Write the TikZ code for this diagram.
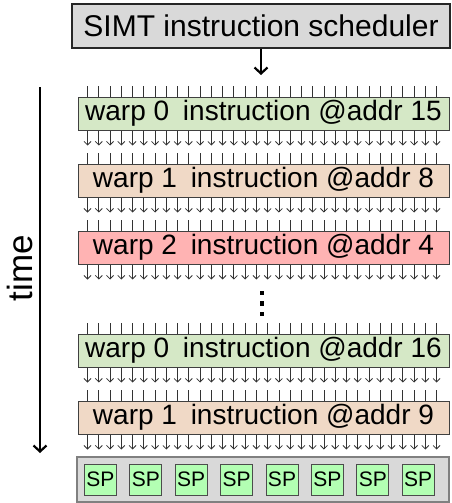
\documentclass[tikz,border=0pt]{standalone}
\usepackage{fontspec}
\setmainfont{Liberation Sans}
\usetikzlibrary{arrows.meta,calc}
\definecolor{wgreen}{HTML}{D5E8C6}
\definecolor{wtan}{HTML}{F0D9C6}
\definecolor{wred}{HTML}{FFB3B3}
\definecolor{spgreen}{HTML}{B3FFB3}
\definecolor{boxgray}{HTML}{D9D9D9}
\begin{document}
\begin{tikzpicture}[x=1pt,y=-1pt,
  warpbox/.style={draw=black!75, line width=1pt, minimum width=371pt, minimum height=33pt, inner sep=0pt, font=\fontsize{28}{30}\selectfont},
  schedbox/.style={draw=black!85, fill=boxgray, line width=1.4pt, minimum width=378pt, minimum height=44pt, inner sep=0pt, font=\fontsize{30}{32}\selectfont},
  spcbox/.style={draw=black!50, fill=boxgray, line width=1.2pt, minimum width=372pt, minimum height=45pt, inner sep=0pt},
  spbox/.style={draw=black!70, fill=spgreen, line width=1pt, minimum width=32pt, minimum height=31pt, inner sep=0pt, font=\fontsize{21}{22}\selectfont},
  tickline/.style={draw=black!80, line width=0.8pt},
  lanearrow/.style={draw=black!80, line width=0.8pt, -{Straight Barb[length=3.5pt,width=7pt]}},
  bigarrow/.style={draw=black, line width=2.2pt, -{Straight Barb[length=6pt,width=13pt]}},
  dot/.style={fill=black, minimum size=4.5pt, inner sep=0pt}
]
\useasboundingbox (0,0) rectangle (452,503);

\node[schedbox] (sched) at (261,26) {SIMT instruction scheduler};
\coordinate (schedend) at (261,75);
\draw[bigarrow] (sched.south) -- (schedend);

\node[warpbox, fill=wgreen] (w1) at (263.5,113.5) {warp 0\hspace{6pt} instruction @addr 15};
\node[warpbox, fill=wtan]   (w2) at (263.5,180.5) {warp 1\hspace{6pt} instruction @addr 8};
\node[warpbox, fill=wred]   (w3) at (263.5,247.5) {warp 2\hspace{6pt} instruction @addr 4};
\node[warpbox, fill=wgreen] (w4) at (263.5,350.5) {warp 0\hspace{6pt} instruction @addr 16};
\node[warpbox, fill=wtan]   (w5) at (263.5,417.5) {warp 1\hspace{6pt} instruction @addr 9};

\foreach \w in {w1,w2,w3,w4,w5} {
  \foreach \i in {0,...,31} {
    \draw[tickline] ($(\w.north west)+({10+\i*11.26},0)$) -- ++(0,-11);
    \draw[lanearrow] ($(\w.south west)+({10+\i*11.26},0)$) -- ++(0,15);
  }
}

\node[dot] (d1) at (262,293) {};
\node[dot] (d2) at (262,303.5) {};
\node[dot] (d3) at (262,314) {};

\node[spcbox] (spc) at (263,479.5) {};
\foreach \i in {1,...,8} {
  \node[spbox] (sp\i) at ($(spc.west)+({24+(\i-1)*45.4},0)$) {SP};
}

\coordinate (tstart) at (40,87);
\coordinate (tend) at (40,453);
\draw[bigarrow] (tstart) -- (tend);
\node[rotate=90, font=\fontsize{35}{37}\selectfont] (tlabel) at (20,268) {time};
\end{tikzpicture}
\end{document}
